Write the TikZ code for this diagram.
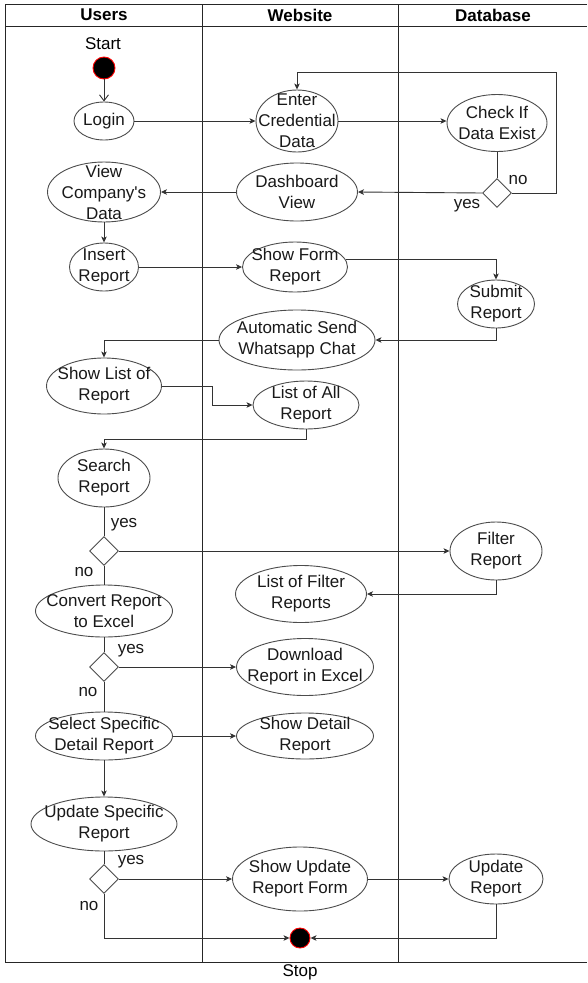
\documentclass[tikz,border=0pt]{standalone}
\usepackage{fontspec}
\setmainfont{Liberation Sans}
\usetikzlibrary{arrows.meta,shapes.geometric}

% activity: name, x, y, width, height, text
\newcommand\activity[6]{%
  \node[actshape,minimum width=#4pt,minimum height=#5pt] (#1) at (#2,#3) {};
  \node[acttext] at (#1.center) {#6};}
% decision: name, x, y
\newcommand\decision[3]{\node[decshape] (#1) at (#2,#3) {};}

\begin{document}
\begin{tikzpicture}[x=1pt,y=-1pt,
  every node/.style={font=\fontsize{17}{21}\selectfont},
  actshape/.style={ellipse,draw=black!70,line width=0.9pt,inner sep=0pt,fill=white},
  acttext/.style={align=center,inner sep=0pt,text=black!90},
  decshape/.style={diamond,draw=black!70,line width=0.9pt,inner sep=0pt,
    minimum width=29pt,minimum height=29pt,fill=white},
  lane/.style={draw=black!85,line width=1pt},
  flow/.style={draw=black!80,line width=0.9pt,-{Stealth[length=6pt,width=5.5pt,inset=1.5pt]}},
  plain/.style={draw=black!80,line width=0.9pt},
  openflow/.style={draw=black!80,line width=0.9pt,-{Straight Barb[length=6pt,width=9pt]}},
  guard/.style={inner sep=0pt,text=black!90},
  hdr/.style={font=\fontsize{17}{21}\selectfont\bfseries,inner sep=0pt},
  endpoint/.style={circle,fill=black,draw=red,line width=0.9pt,inner sep=0pt}]

\useasboundingbox (0,0) rectangle (587,983);

% swimlanes (open on the right-hand side)
\draw[lane] (587,4) -- (5,4) -- (5,962) -- (587,962);
\draw[lane] (5,26) -- (587,26);
\draw[lane] (202,4) -- (202,962);
\draw[lane] (398,4) -- (398,962);
\node[hdr] (hUsers) at (104,15) {Users};
\node[hdr] (hWeb) at (300,15) {Website};
\node[hdr] (hDb) at (493,15) {Database};

% start / stop
\node[inner sep=0pt] (startlbl) at (103,44) {Start};
\node[endpoint,minimum size=22pt] (start) at (104,68) {};
\node[endpoint,minimum size=20pt] (stop) at (300,938) {};
\node[inner sep=0pt] (stoplbl) at (300,972) {Stop};

% activities
\activity{login}{104}{121}{60}{38}{Login}
\activity{enter}{297}{121}{82}{62}{Enter\\Credential\\Data}
\activity{check}{497}{123}{100}{57}{Check If\\Data Exist}
\decision{d1}{497}{193}
\activity{dash}{297}{192}{121}{58}{Dashboard\\View}
\activity{view}{104}{192}{113}{60}{View\\Company\textquotesingle s\\Data}
\activity{insert}{104}{267}{69}{48}{Insert\\Report}
\activity{sform}{295}{267}{105}{50}{Show Form\\Report}
\activity{submit}{496}{304}{77}{48}{Submit\\Report}
\activity{auto}{297}{340}{156}{60}{Automatic Send\\Whatsapp Chat}
\activity{showlist}{104}{386}{115}{56}{Show List of\\Report}
\activity{listall}{306}{405}{106}{48}{List of All\\Report}
\activity{search}{104}{478}{92}{58}{Search\\Report}
\decision{d2}{104}{551}
\activity{filter}{496}{551}{92}{58}{Filter\\Report}
\activity{listfilter}{301}{594}{131}{57}{List of Filter\\Reports}
\activity{conv}{104}{611}{137}{52}{Convert Report\\to Excel}
\decision{d3}{104}{667}
\activity{download}{305}{667}{137}{57}{Download\\Report in Excel}
\activity{select}{104}{736}{137}{48}{Select Specific\\Detail Report}
\activity{showdetail}{305}{736}{137}{46}{Show Detail\\Report}
\activity{update}{104}{824}{146}{54}{Update Specific\\Report}
\decision{d4}{104}{879}
\activity{showupd}{300}{879}{135}{64}{Show Update\\Report Form}
\activity{updrep}{496}{879}{94}{50}{Update\\Report}

\coordinate (loopR) at (556,72);

% connectors
\draw[openflow] (start) -- (login);
\draw[flow] (login.east) -- (enter.west);
\draw[flow] (enter.east) -- (check.west |- enter.east);
\draw[plain] (check.south) -- (d1.north);
\draw[flow] (d1.east) -| (loopR) -| (enter.north);
\draw[flow] (d1.west) -- (dash.east);
\draw[flow] (dash.west) -- (view.east);
\draw[flow] (view.south) -- (insert.north);
\draw[flow] (insert.east) -- (sform.west);
\draw[flow] (sform.8) -| (submit.north);
\draw[flow] (submit.south) |- (auto.east);
\draw[flow] (auto.west) -| (showlist.north);
\draw[flow] (showlist.east) -- ++(50,0) |- (listall.west);
\draw[flow] (listall.south) -- ++(0,10) -| (search.north);
\draw[plain] (search.south) -- (d2.north);
\draw[flow] (d2.east) -- (filter.west);
\draw[flow] (filter.south) |- (listfilter.east);
\draw[plain] (d2.south) -- (conv.north);
\draw[plain] (conv.south) -- (d3.north);
\draw[flow] (d3.east) -- (download.west);
\draw[plain] (d3.south) -- (select.north);
\draw[flow] (select.east) -- (showdetail.west);
\draw[flow] (select.south) -- (update.north);
\draw[plain] (update.south) -- (d4.north);
\draw[flow] (d4.east) -- (showupd.west);
\draw[flow] (showupd.east) -- (updrep.west);
\draw[flow] (d4.south) |- (stop.west);
\draw[flow] (updrep.south) |- (stop.east);

% guards
\node[guard] (g1no) at (518,180) {no};
\node[guard] (g1yes) at (467,206) {yes};
\node[guard] (g2yes) at (124,525) {yes};
\node[guard] (g2no) at (84,572) {no};
\node[guard] (g3yes) at (131,651) {yes};
\node[guard] (g3no) at (88,692) {no};
\node[guard] (g4yes) at (131,862) {yes};
\node[guard] (g4no) at (89,906) {no};
\end{tikzpicture}
\end{document}
